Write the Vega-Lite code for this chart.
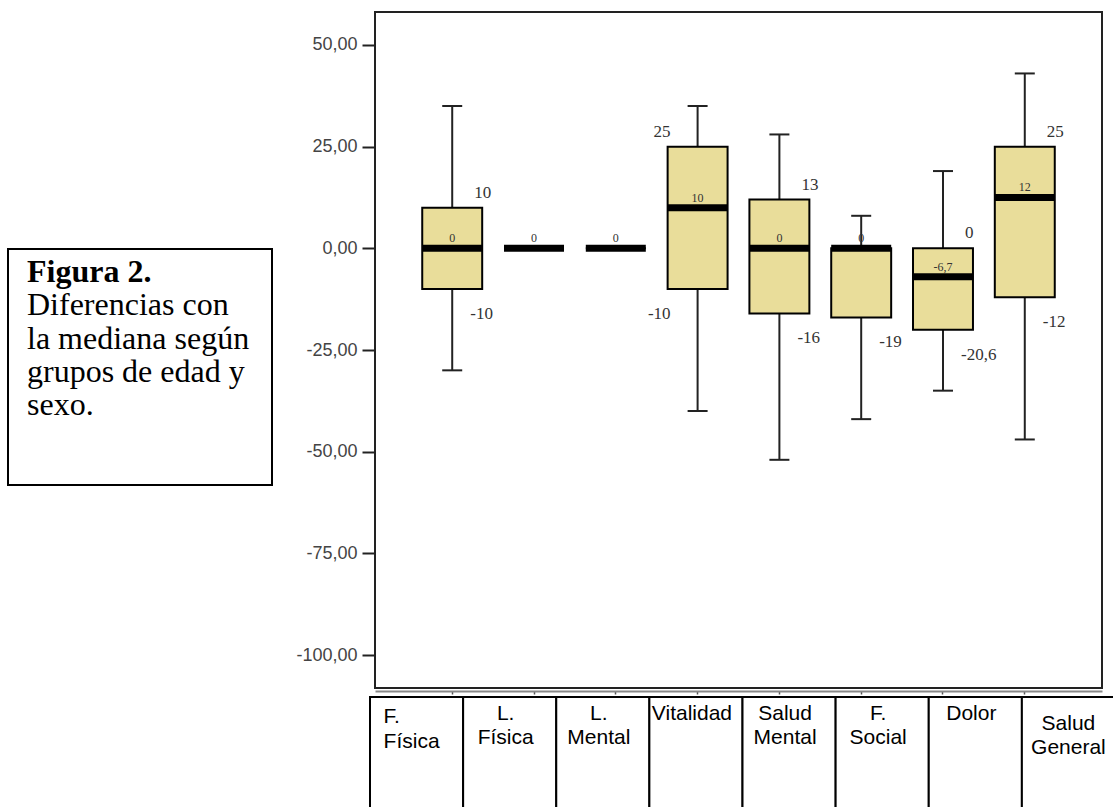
{
  "$schema": "https://vega.github.io/schema/vega-lite/v6.json",
  "padding": {"left": 7, "top": 11, "right": 0, "bottom": 0},
  "background": "white",
  "config": {"view": {"stroke": null}},
  "datasets": {
    "stats": [
      {"cat": "F. Física", "tl": "F.\nFísica", "lo": -30, "q1": -10, "med": 0, "q3": 10, "hi": 35, "lq3": "10", "lmed": "0", "lq1": "-10"},
      {"cat": "L. Física", "tl": "L.\nFísica", "lo": 0, "q1": 0, "med": 0, "q3": 0, "hi": 0, "lq3": "", "lmed": "0", "lq1": ""},
      {"cat": "L. Mental", "tl": "L.\nMental", "lo": 0, "q1": 0, "med": 0, "q3": 0, "hi": 0, "lq3": "", "lmed": "0", "lq1": ""},
      {"cat": "Vitalidad", "tl": "Vitalidad", "lo": -40, "q1": -10, "med": 10, "q3": 25, "hi": 35, "lq3": "25", "lmed": "10", "lq1": "-10"},
      {"cat": "Salud Mental", "tl": "Salud\nMental", "lo": -52, "q1": -16, "med": 0, "q3": 12, "hi": 28, "lq3": "13", "lmed": "0", "lq1": "-16"},
      {"cat": "F. Social", "tl": "F.\nSocial", "lo": -42, "q1": -17, "med": 0, "q3": 0, "hi": 8, "lq3": "", "lmed": "0", "lq1": "-19"},
      {"cat": "Dolor", "tl": "Dolor", "lo": -35, "q1": -20, "med": -7, "q3": 0, "hi": 19, "lq3": "0", "lmed": "-6,7", "lq1": "-20,6"},
      {"cat": "Salud General", "tl": "Salud\nGeneral", "lo": -47, "q1": -12, "med": 12.5, "q3": 25, "hi": 43, "lq3": "25", "lmed": "12", "lq1": "-12"}
    ],
    "caption": [
      {"i": 0, "t": "Figura 2."},
      {"i": 1, "t": "Diferencias con"},
      {"i": 2, "t": "la mediana según"},
      {"i": 3, "t": "grupos de edad y"},
      {"i": 4, "t": "sexo."}
    ]
  },
  "spacing": 21,
  "hconcat": [
    {
      "spacing": 0,
      "vconcat": [
        {
          "width": 264,
          "height": 235,
          "view": {"stroke": "white"},
          "data": {"values": [{"t": ""}]},
          "mark": {"type": "text"},
          "encoding": {"text": {"field": "t"}}
        },
        {
          "width": 264,
          "height": 236,
          "view": {"stroke": "black", "strokeWidth": 2},
          "data": {"name": "caption"},
          "encoding": {
            "x": {"value": 19},
            "y": {"field": "i", "type": "quantitative", "axis": null, "scale": {"domain": [-0.9925, 6.105], "reverse": true, "nice": false, "zero": false}},
            "text": {"field": "t"}
          },
          "layer": [
            {
              "transform": [{"filter": "datum.i === 0"}],
              "mark": {"type": "text", "align": "left", "baseline": "alphabetic", "font": "Liberation Serif", "fontSize": 32, "fontWeight": "bold", "color": "black"}
            },
            {
              "transform": [{"filter": "datum.i > 0"}],
              "mark": {"type": "text", "align": "left", "baseline": "alphabetic", "font": "Liberation Serif", "fontSize": 32, "fontWeight": "normal", "color": "black"}
            }
          ]
        }
      ]
    },
    {
      "spacing": 9,
      "bounds": "flush",
      "resolve": {"scale": {"x": "independent", "y": "independent"}},
      "vconcat": [
        {
          "width": 727,
          "height": 676,
          "view": {"stroke": "#222", "strokeWidth": 2},
          "data": {"name": "stats"},
          "encoding": {
            "x": {
              "field": "cat", "type": "nominal", "sort": null, "title": null,
              "scale": {"paddingInner": 0, "paddingOuter": 0.444},
              "axis": {"labels": false, "title": null, "domain": true, "domainColor": "#888", "domainWidth": 2, "offset": 3, "ticks": true, "tickSize": 3, "tickColor": "#555", "tickWidth": 1.5}
            }
          },
          "layer": [
            {
              "mark": {"type": "rule", "color": "#222", "strokeWidth": 2, "opacity": 1},
              "encoding": {
                "y": {
                  "field": "lo", "type": "quantitative", "title": null,
                  "scale": {"domain": [-108.11, 58.11], "nice": false, "zero": false},
                  "axis": {
                    "values": [-100, -75, -50, -25, 0, 25, 50],
                    "labelExpr": "replace(replace(format(datum.value, '.2f'), '.', ','), '\u2212', '-')",
                    "title": null, "grid": false, "domain": false,
                    "tickSize": 13, "tickWidth": 2, "tickColor": "#222",
                    "labelFont": "Liberation Sans", "labelFontSize": 18, "labelColor": "#444", "labelPadding": 5
                  }
                },
                "y2": {"field": "hi"}
              }
            },
            {
              "mark": {"type": "tick", "size": 20, "thickness": 2, "color": "#222", "opacity": 1},
              "encoding": {"y": {"field": "hi", "type": "quantitative", "title": null}}
            },
            {
              "mark": {"type": "tick", "size": 20, "thickness": 2, "color": "#222", "opacity": 1},
              "encoding": {"y": {"field": "lo", "type": "quantitative", "title": null}}
            },
            {
              "mark": {"type": "bar", "width": {"band": 0.733}, "fill": "#E9DD9A", "stroke": "black", "strokeWidth": 2, "opacity": 1},
              "encoding": {"y": {"field": "q1", "type": "quantitative", "title": null}, "y2": {"field": "q3"}}
            },
            {
              "mark": {"type": "tick", "size": 60, "thickness": 7, "color": "black", "opacity": 1},
              "encoding": {"y": {"field": "med", "type": "quantitative", "title": null}}
            },
            {
              "transform": [{"filter": "datum.lq3 != '' && datum.cat != 'Vitalidad'"}],
              "mark": {"type": "text", "align": "left", "baseline": "alphabetic", "dx": 22, "dy": -10, "font": "Liberation Serif", "fontSize": 17, "color": "#333"},
              "encoding": {"y": {"field": "q3", "type": "quantitative", "title": null}, "text": {"field": "lq3"}}
            },
            {
              "transform": [{"filter": "datum.lq1 != '' && datum.cat != 'Vitalidad'"}],
              "mark": {"type": "text", "align": "left", "baseline": "alphabetic", "dx": 18, "dy": 30, "font": "Liberation Serif", "fontSize": 17, "color": "#333"},
              "encoding": {"y": {"field": "q1", "type": "quantitative", "title": null}, "text": {"field": "lq1"}}
            },
            {
              "transform": [{"filter": "datum.cat == 'Vitalidad'"}],
              "mark": {"type": "text", "align": "right", "baseline": "alphabetic", "dx": -27, "dy": -10, "font": "Liberation Serif", "fontSize": 17, "color": "#333"},
              "encoding": {"y": {"field": "q3", "type": "quantitative", "title": null}, "text": {"field": "lq3"}}
            },
            {
              "transform": [{"filter": "datum.cat == 'Vitalidad'"}],
              "mark": {"type": "text", "align": "right", "baseline": "alphabetic", "dx": -27, "dy": 30, "font": "Liberation Serif", "fontSize": 17, "color": "#333"},
              "encoding": {"y": {"field": "q1", "type": "quantitative", "title": null}, "text": {"field": "lq1"}}
            },
            {
              "transform": [{"filter": "datum.lmed != ''"}],
              "mark": {"type": "text", "align": "center", "baseline": "alphabetic", "dy": -6, "font": "Liberation Serif", "fontSize": 12, "color": "#333"},
              "encoding": {"y": {"field": "med", "type": "quantitative", "title": null}, "text": {"field": "lmed"}}
            }
          ]
        },
        {
          "width": 740,
          "height": 115,
          "data": {"name": "stats"},
          "encoding": {
            "x": {"field": "cat", "type": "nominal", "sort": null, "axis": null, "scale": {"paddingInner": 0, "paddingOuter": 0, "range": [-5, 740]}}
          },
          "layer": [
            {
              "mark": {"type": "rect", "fill": "white", "stroke": "black", "strokeWidth": 2}
            },
            {
              "transform": [{"filter": "datum.cat == 'F. Física'"}],
              "mark": {"type": "text", "align": "left", "baseline": "alphabetic", "lineBreak": "\n", "lineHeight": 25, "dx": -33, "dy": -31.5, "font": "Liberation Sans", "fontSize": 21, "color": "black"},
              "encoding": {"text": {"field": "tl"}}
            },
            {
              "transform": [{"filter": "datum.cat != 'F. Física' && datum.cat != 'Salud General'"}],
              "mark": {"type": "text", "align": "center", "baseline": "alphabetic", "lineBreak": "\n", "lineHeight": 24, "dx": -4, "dy": -34.5, "font": "Liberation Sans", "fontSize": 21, "color": "black"},
              "encoding": {"text": {"field": "tl"}}
            },
            {
              "transform": [{"filter": "datum.cat == 'Salud General'"}],
              "mark": {"type": "text", "align": "center", "baseline": "alphabetic", "lineBreak": "\n", "lineHeight": 24, "dy": -24.5, "font": "Liberation Sans", "fontSize": 21, "color": "black"},
              "encoding": {"text": {"field": "tl"}}
            }
          ]
        }
      ]
    }
  ]
}
